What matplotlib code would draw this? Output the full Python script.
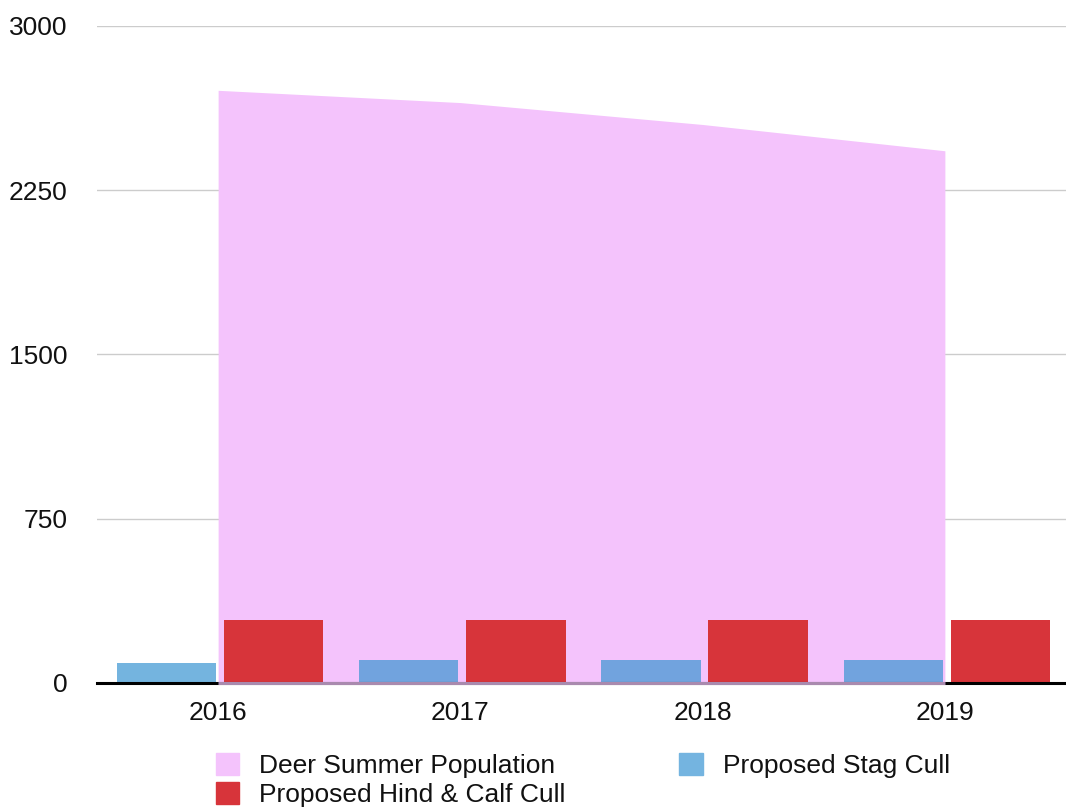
#deer population vs proposed culls, 2016-2019
import matplotlib
matplotlib.use("Agg")
import matplotlib.pyplot as plt
from matplotlib.patches import Patch
import numpy as np

plt.rcParams['font.family'] = ['Liberation Sans', 'DejaVu Sans']

years = ['2016', '2017', '2018', '2019']
population = [2706, 2650, 2550, 2430]
stag_cull = [93, 105, 105, 105]
hind_calf_cull = [288, 288, 288, 288]
y_ticks = [0, 750, 1500, 2250, 3000]

pink = '#f4c3fc'
blue = (65/255, 152/255, 212/255)
red = '#d7343a'

fig = plt.figure(figsize=(10.66, 8.10), dpi=100)
ax = fig.add_axes([0.091, 0.1568, 0.909, 0.8112])

x = np.arange(len(years))
ax.fill_between(x, 0, population, color=pink, lw=0, zorder=3)
ax.bar(x - 0.213, stag_cull, width=0.41, color=blue, alpha=0.73, zorder=4)
ax.bar(x + 0.229, hind_calf_cull, width=0.41, color=red, zorder=5)
# baseline black, but tinted where the area covers it
ax.axhline(0, color='black', lw=2.2, zorder=6, clip_on=False)
ax.plot([x[0], x[-1]], [0, 0], color='#a98aae', lw=2.2, zorder=6.5,
        clip_on=False, solid_capstyle='butt')

ax.set_xlim(-0.5, 3.5)
ax.set_ylim(0, 3000)
ax.set_yticks(y_ticks)
ax.set_yticklabels([str(v) for v in y_ticks])
ax.set_xticks(x)
ax.set_xticklabels(years)
ax.yaxis.grid(True, color='#cccccc', lw=1)
ax.set_axisbelow(True)
for s in ax.spines.values():
    s.set_visible(False)
ax.tick_params(axis='both', length=0, labelsize=19, colors='#111111')
ax.tick_params(axis='y', pad=21)
ax.tick_params(axis='x', pad=13)

handles = [Patch(color=pink), Patch(color=red),
           Patch(color=(116/255, 180/255, 224/255))]
labels = ['Deer Summer Population', 'Proposed Hind & Calf Cull', 'Proposed Stag Cull']
fig.legend(handles, labels, ncol=2, loc='lower left', bbox_to_anchor=(0.18, -0.026),
           frameon=False, fontsize=19, handlelength=0.9, handleheight=0.9,
           handletextpad=0.75, columnspacing=4.3, labelspacing=0.15,
           labelcolor='#111111')

fig.savefig('out.png', dpi=100)
